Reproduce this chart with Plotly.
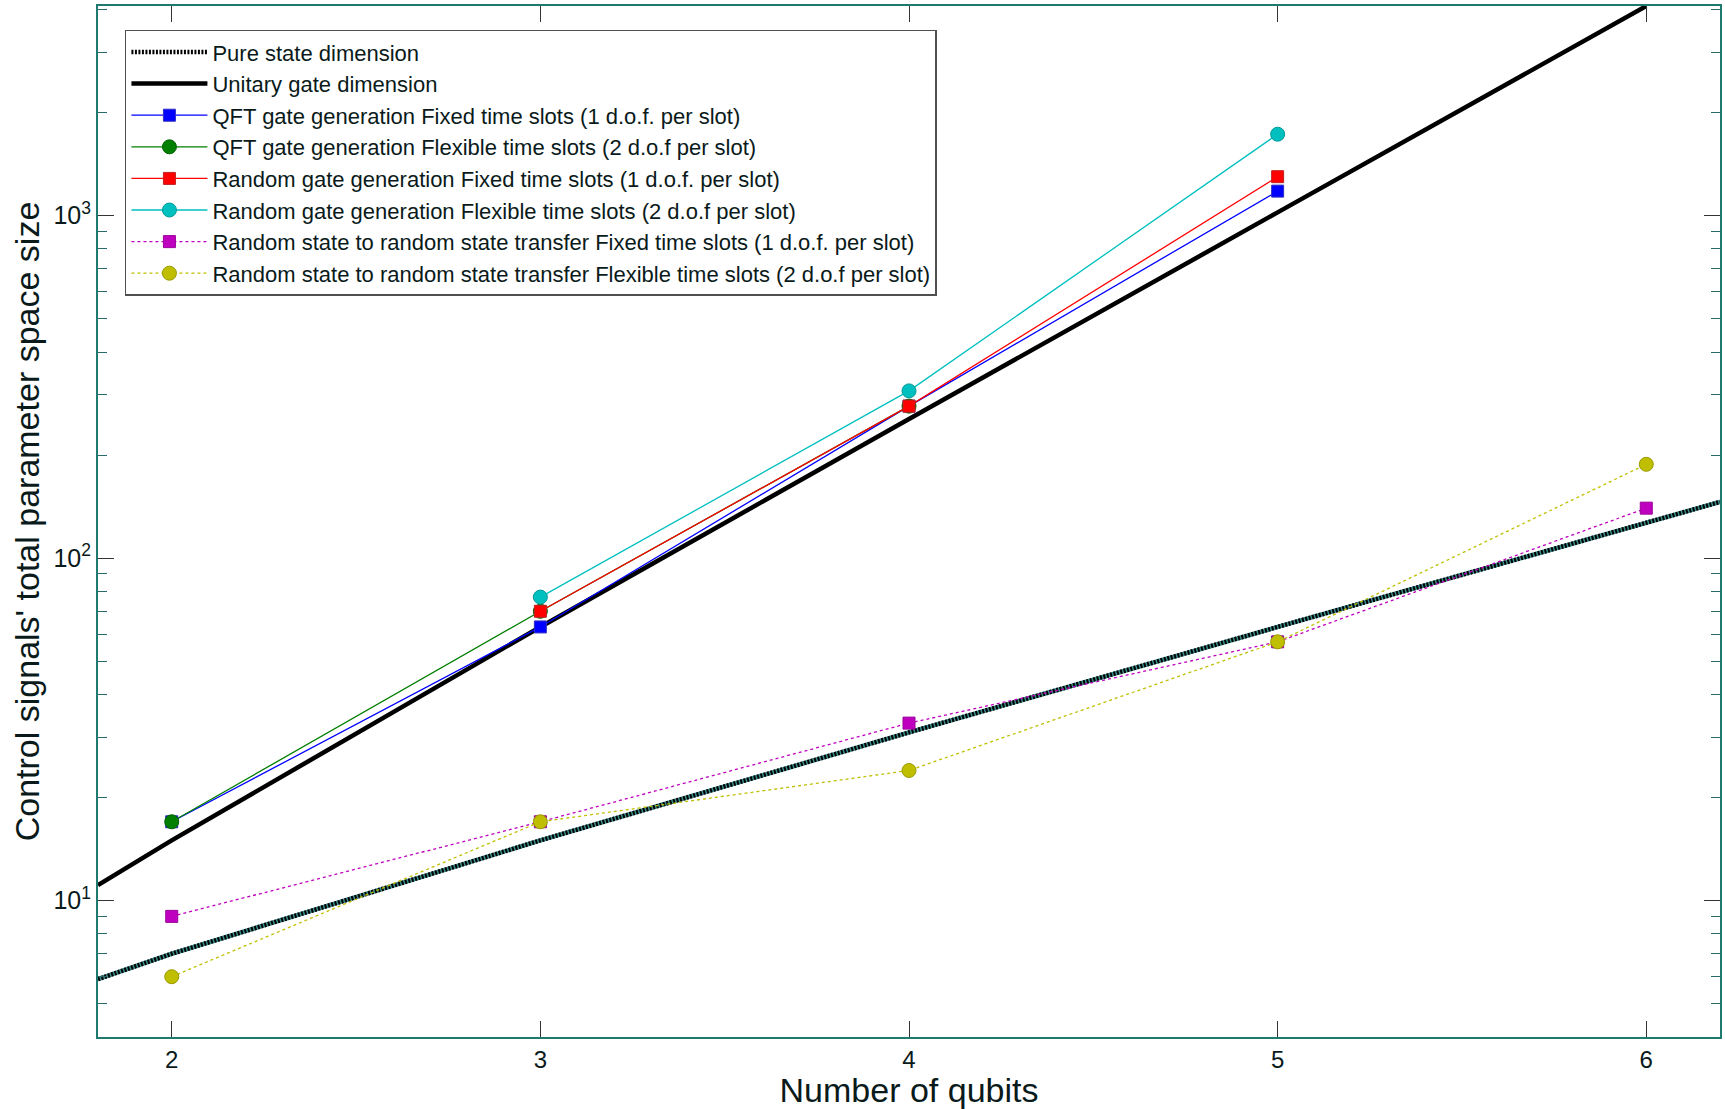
import plotly.graph_objects as go
import numpy as np

# ---- data ----
line_x = [1.8, 2, 3, 4, 5, 6, 6.2]
pure_state = [5.9, 7, 15, 31, 63, 127, 146]
unitary_x = [1.8, 2, 3, 4, 5, 6]
unitary_gate = [11.1, 15, 63, 255, 1023, 4095]

qft_fixed_x = [2, 3, 4, 5]
qft_fixed = [17, 63, 278, 1180]
qft_flex_x = [2, 3, 4]
qft_flex = [17, 70, 278]
rand_fixed_x = [3, 4, 5]
rand_fixed = [70, 278, 1300]
rand_flex_x = [3, 4, 5]
rand_flex = [77, 308, 1730]
state_x = [2, 3, 4, 5, 6]
state_fixed = [9, 17, 33, 57, 140]
state_flex = [6, 17, 24, 57, 188]

FONT = "Liberation Sans, Arial, sans-serif"
TXT = "#0a1a1a"

fig = go.Figure()

# pure state dimension: teal underlay + black dotted overlay
fig.add_trace(go.Scatter(x=line_x, y=pure_state, mode="lines",
                         line=dict(color="#3c8c8c", width=4.5),
                         showlegend=False, hoverinfo="skip", legendgroup="pure"))
fig.add_trace(go.Scatter(x=line_x, y=pure_state, mode="lines", name="Pure state dimension",
                         line=dict(color="#000000", width=4.5, dash="2px,1.5px"), legendgroup="pure"))
fig.add_trace(go.Scatter(x=unitary_x, y=unitary_gate, mode="lines", name="Unitary gate dimension",
                         line=dict(color="#000000", width=4.5)))

def series(x, y, name, color, edge, symbol, dash="solid", size=12):
    fig.add_trace(go.Scatter(
        x=x, y=y, mode="lines+markers", name=name,
        line=dict(color=color, width=1.3, dash=dash),
        marker=dict(symbol=symbol, size=size, color=color, line=dict(color=edge, width=1))))

series(qft_fixed_x, qft_fixed, "QFT gate generation Fixed time slots (1 d.o.f. per slot)",
       "#0000ff", "#3030c0", "square", size=12)
series(qft_flex_x, qft_flex, "QFT gate generation Flexible time slots (2 d.o.f per slot)",
       "#007f00", "#006000", "circle", size=14)
series(rand_fixed_x, rand_fixed, "Random gate generation Fixed time slots (1 d.o.f. per slot)",
       "#ff0000", "#c02020", "square", size=12)
series(rand_flex_x, rand_flex, "Random gate generation Flexible time slots (2 d.o.f per slot)",
       "#00bfbf", "#009a9a", "circle", size=14)
series(state_x, state_fixed, "Random state to random state transfer Fixed time slots (1 d.o.f. per slot)",
       "#bf00bf", "#9a009a", "square", dash="dot", size=12)
series(state_x, state_flex, "Random state to random state transfer Flexible time slots (2 d.o.f per slot)",
       "#bfbf00", "#9a9a00", "circle", dash="dot", size=14)

major = [10, 100, 1000]
minor_vals = [m * 10 ** e for e in range(0, 4) for m in range(2, 10) if 4 <= m * 10 ** e <= 4096]

fig.update_layout(
    width=1725, height=1109,
    margin=dict(l=98, r=3, t=6, b=72),
    paper_bgcolor="white", plot_bgcolor="white",
    font=dict(family=FONT, color=TXT, size=22),
    showlegend=True,
    legend=dict(x=0.0166, y=0.977, xanchor="left", yanchor="top",
                bgcolor="white", bordercolor="#505050", borderwidth=1.5,
                font=dict(family=FONT, size=22, color=TXT),
                tracegroupgap=0, itemwidth=76),
    xaxis=dict(range=[1.8, 6.2], tickvals=[2, 3, 4, 5, 6], ticks="inside", ticklen=16,
               tickcolor="#333333", tickwidth=1, showgrid=False, zeroline=False,
               showline=True, linecolor="#1e7a6e", linewidth=2, mirror="ticks",
               tickfont=dict(size=24, color=TXT),
               title=dict(text="Number of qubits", font=dict(size=34, color=TXT), standoff=4)),
    yaxis=dict(type="log", range=[np.log10(4), np.log10(4096)],
               tickvals=major, ticktext=["10<sup>1</sup>", "10<sup>2</sup>", "10<sup>3</sup>"],
               ticks="inside", ticklen=16, tickcolor="#333333", tickwidth=1,
               minor=dict(tickvals=minor_vals, ticks="inside", ticklen=9, tickcolor="#2a6a6a", showgrid=False),
               showgrid=False, zeroline=False, showline=True, linecolor="#1e7a6e", linewidth=2,
               mirror="ticks", tickfont=dict(size=25, color=TXT),
               title=dict(text="Control signals' total parameter space size",
                          font=dict(size=34, color=TXT), standoff=4)),
)

fig.write_html("out.html")
